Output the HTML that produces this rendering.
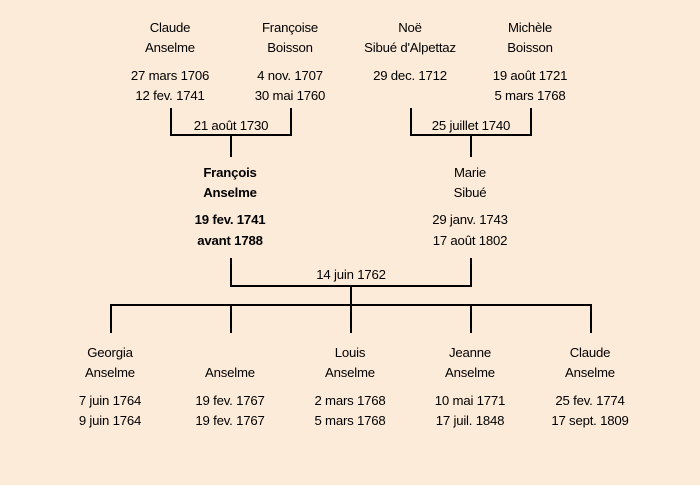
<!DOCTYPE html>
<html><head><meta charset="utf-8"><style>
html,body{margin:0;padding:0;background:#fdebd9;}
svg{display:block}
text{font-family:"Liberation Sans","DejaVu Sans",sans-serif;font-size:13.2px;fill:#000;text-anchor:middle;letter-spacing:-0.2px}
.b{font-weight:bold}
</style></head><body>
<svg width="700" height="485" viewBox="0 0 700 485" xmlns="http://www.w3.org/2000/svg">
<rect width="700" height="485" fill="#fdebd9"/>
<g stroke="#000" stroke-width="2" fill="none">
<path d="M171 108V135H291V108M231 135V157"/>
<path d="M411 108V135H531V108M471 135V157"/>
<path d="M231 258V286H471V258M351 286V305"/>
<path d="M111 333V305H591V333M231 305V333M351 305V333M471 305V333"/>
</g>
<text x="170" y="32">Claude</text><text x="170" y="52">Anselme</text>
<text x="170" y="80">27 mars 1706</text><text x="170" y="100">12 fev. 1741</text>
<text x="290" y="32">Françoise</text><text x="290" y="52">Boisson</text>
<text x="290" y="80">4 nov. 1707</text><text x="290" y="100">30 mai 1760</text>
<text x="410" y="32">Noë</text><text x="410" y="52">Sibué d'Alpettaz</text>
<text x="410" y="80">29 dec. 1712</text>
<text x="530" y="32">Michèle</text><text x="530" y="52">Boisson</text>
<text x="530" y="80">19 août 1721</text><text x="530" y="100">5 mars 1768</text>
<text x="231" y="130">21 août 1730</text>
<text x="471" y="130">25 juillet 1740</text>
<text class="b" x="230" y="177">François</text><text class="b" x="230" y="197">Anselme</text>
<text class="b" x="230" y="224">19 fev. 1741</text><text class="b" x="230" y="245">avant 1788</text>
<text x="470" y="177">Marie</text><text x="470" y="197">Sibué</text>
<text x="470" y="224">29 janv. 1743</text><text x="470" y="245">17 août 1802</text>
<text x="351" y="279">14 juin 1762</text>
<text x="110" y="357">Georgia</text><text x="110" y="377">Anselme</text>
<text x="110" y="405">7 juin 1764</text><text x="110" y="425">9 juin 1764</text>
<text x="230" y="377">Anselme</text>
<text x="230" y="405">19 fev. 1767</text><text x="230" y="425">19 fev. 1767</text>
<text x="350" y="357">Louis</text><text x="350" y="377">Anselme</text>
<text x="350" y="405">2 mars 1768</text><text x="350" y="425">5 mars 1768</text>
<text x="470" y="357">Jeanne</text><text x="470" y="377">Anselme</text>
<text x="470" y="405">10 mai 1771</text><text x="470" y="425">17 juil. 1848</text>
<text x="590" y="357">Claude</text><text x="590" y="377">Anselme</text>
<text x="590" y="405">25 fev. 1774</text><text x="590" y="425">17 sept. 1809</text>
</svg>
</body></html>
